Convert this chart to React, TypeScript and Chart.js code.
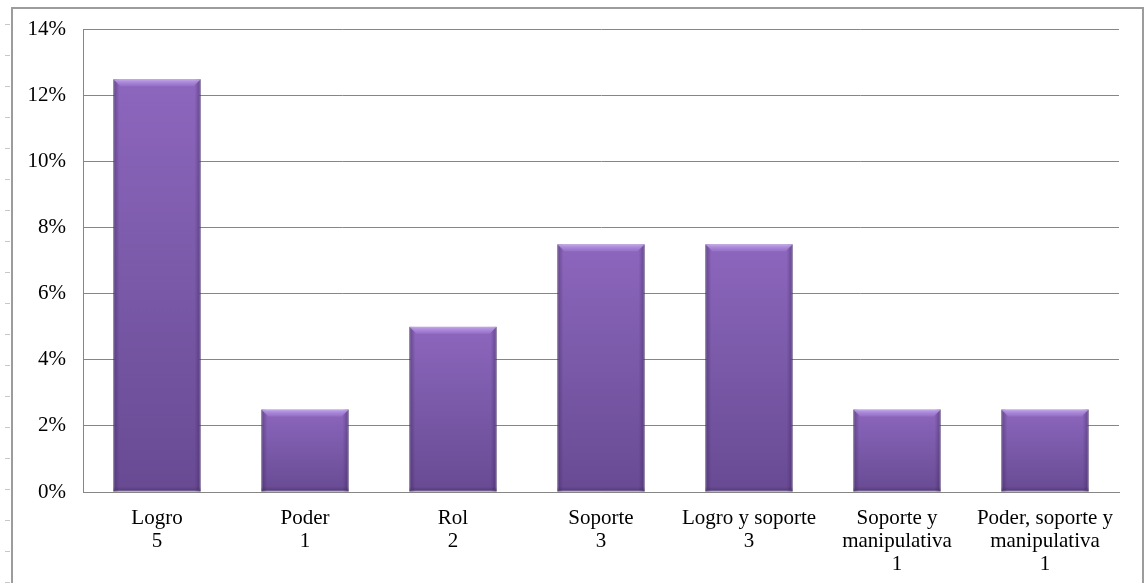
import React, { useEffect, useRef } from "react";
import { Chart, registerables } from "chart.js";

Chart.register(...registerables);

const categories: string[][] = [
  ["Logro", "5"],
  ["Poder", "1"],
  ["Rol", "2"],
  ["Soporte", "3"],
  ["Logro y soporte", "3"],
  ["Soporte y", "manipulativa", "1"],
  ["Poder, soporte y", "manipulativa", "1"],
];
const values: number[] = [12.5, 2.5, 5, 7.5, 7.5, 2.5, 2.5];
const yTicks: number[] = [0, 2, 4, 6, 8, 10, 12, 14];

const FONT = "'Liberation Serif', 'Times New Roman', serif";

const bevelPlugin = {
  id: "bevel",
  afterDatasetsDraw(chart: any) {
    const ctx = chart.ctx;
    const meta = chart.getDatasetMeta(0);
    meta.data.forEach((bar: any) => {
      const { x, y, base, width } = bar.getProps(["x", "y", "base", "width"], true);
      const l = x - width / 2;
      const r = x + width / 2;
      const h = base - y;
      if (h <= 0) return;
      ctx.save();
      const gl = ctx.createLinearGradient(l, 0, l + 6, 0);
      gl.addColorStop(0, "rgba(60,35,95,0.5)");
      gl.addColorStop(1, "rgba(60,35,95,0)");
      ctx.fillStyle = gl;
      ctx.fillRect(l, y, 6, h);
      const gr = ctx.createLinearGradient(r - 6, 0, r, 0);
      gr.addColorStop(0, "rgba(60,35,95,0)");
      gr.addColorStop(1, "rgba(60,35,95,0.5)");
      ctx.fillStyle = gr;
      ctx.fillRect(r - 6, y, 6, h);
      const bv = 7;
      ctx.beginPath();
      ctx.moveTo(l, y);
      ctx.lineTo(r, y);
      ctx.lineTo(r - bv, y + bv);
      ctx.lineTo(l + bv, y + bv);
      ctx.closePath();
      const gt = ctx.createLinearGradient(0, y, 0, y + bv);
      gt.addColorStop(0, "rgba(200,170,240,0.9)");
      gt.addColorStop(1, "rgba(160,125,210,0.5)");
      ctx.fillStyle = gt;
      ctx.fill();
      const gb = ctx.createLinearGradient(0, base - 5, 0, base);
      gb.addColorStop(0, "rgba(50,30,80,0)");
      gb.addColorStop(1, "rgba(50,30,80,0.4)");
      ctx.fillStyle = gb;
      ctx.fillRect(l, base - 5, width, 5);
      ctx.restore();
    });
  },
};

export default function App() {
  const ref = useRef<HTMLCanvasElement | null>(null);

  useEffect(() => {
    if (!ref.current) return;
    const chart = new Chart(ref.current, {
      type: "bar",
      data: {
        labels: categories,
        datasets: [
          {
            data: values,
            backgroundColor: (c: any) => {
              const ch = c.chart;
              const area = ch.chartArea;
              if (!area || c.raw == null) return "#7a59a8";
              const ys = ch.scales.y;
              const top = ys.getPixelForValue(c.raw);
              const bot = ys.getPixelForValue(0);
              if (!isFinite(top) || !isFinite(bot) || bot - top < 1) return "#7a59a8";
              const g = ch.ctx.createLinearGradient(0, top, 0, bot);
              g.addColorStop(0, "#8d66bd");
              g.addColorStop(0.5, "#7959a8");
              g.addColorStop(1, "#684a93");
              return g;
            },
            borderColor: "rgba(80,55,115,0.8)",
            borderWidth: 1,
            borderSkipped: false,
            barPercentage: 0.59,
            categoryPercentage: 1,
          },
        ],
      },
      options: {
        animation: false,
        responsive: false,
        maintainAspectRatio: false,
        layout: { padding: { left: 0, top: 5, right: 23, bottom: 0 } },
        plugins: {
          legend: { display: false },
          tooltip: { enabled: false },
        },
        scales: {
          x: {
            grid: { display: false, drawTicks: false },
            border: { display: true, color: "#868686", width: 1 },
            ticks: {
              color: "#000",
              font: { family: FONT, size: 21, lineHeight: 1.1 },
              maxRotation: 0,
              minRotation: 0,
              autoSkip: false,
              padding: 15,
            },
            afterFit: (s: any) => {
              s.height = 91;
            },
          },
          y: {
            min: 0,
            max: 14,
            afterBuildTicks: (s: any) => {
              s.ticks = yTicks.map((v) => ({ value: v }));
            },
            grid: { color: "#868686", lineWidth: 1, drawTicks: false },
            border: { display: true, color: "#868686", width: 1 },
            ticks: {
              color: "#000",
              font: { family: FONT, size: 21 },
              padding: 17,
              callback: (v: any) => v + "%",
            },
            afterFit: (s: any) => {
              s.width = 70;
            },
          },
        },
      },
      plugins: [bevelPlugin],
    } as any);
    return () => chart.destroy();
  }, []);

  const rulerTicks = Array.from({ length: 19 }, (_, i) => 24 + i * 31);

  return (
    <div
      style={{
        position: "fixed",
        left: 0,
        top: 0,
        width: 1147,
        height: 583,
        background: "#fff",
        overflow: "hidden",
      }}
    >
      {rulerTicks.map((t) => (
        <div
          key={t}
          style={{
            position: "absolute",
            left: 5,
            top: t,
            width: 5,
            height: 1,
            background: "#c8c8c8",
          }}
        />
      ))}
      <div
        style={{
          position: "absolute",
          left: 11,
          top: 7,
          width: 1133,
          height: 620,
          border: "2px solid #9c9c9c",
          boxSizing: "border-box",
          background: "#fff",
        }}
      />
      <canvas
        ref={ref}
        width={1129}
        height={583}
        style={{ position: "absolute", left: 13, top: 0, width: 1129, height: 583 }}
      />
    </div>
  );
}
